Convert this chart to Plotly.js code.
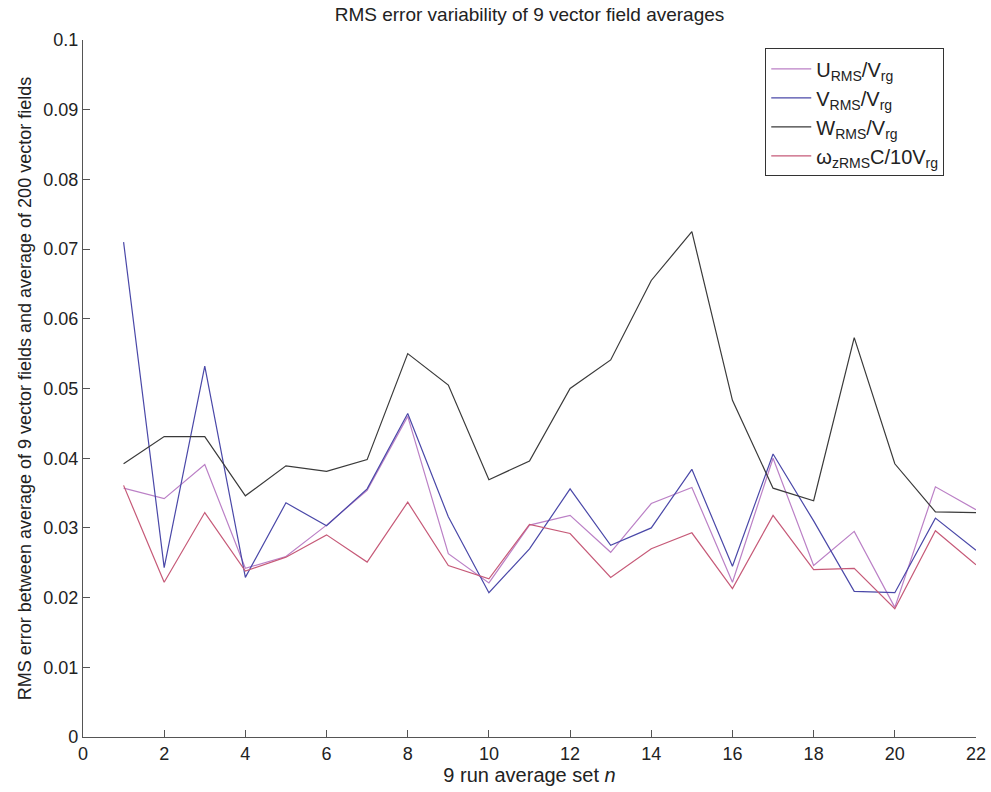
<!DOCTYPE html>
<html>
<head>
<meta charset="utf-8">
<script src="https://cdn.plot.ly/plotly-3.0.1.min.js"></script>
<style>html,body{margin:0;padding:0;background:#fff;}#chart{width:991px;height:792px;}</style>
</head>
<body>
<div id="chart"></div>
<script>
const runSet = [1,2,3,4,5,6,7,8,9,10,11,12,13,14,15,16,17,18,19,20,21,22];
const uRms = [0.0357,0.0342,0.0391,0.0242,0.0259,0.0304,0.0354,0.0460,0.0263,0.0221,0.0304,0.0318,0.0265,0.0335,0.0358,0.0222,0.0400,0.0246,0.0295,0.0186,0.0359,0.0326];
const vRms = [0.0710,0.0243,0.0532,0.0229,0.0336,0.0303,0.0356,0.0464,0.0316,0.0207,0.0270,0.0356,0.0275,0.0300,0.0384,0.0245,0.0406,0.0310,0.0209,0.0207,0.0314,0.0268];
const wRms = [0.0392,0.0431,0.0431,0.0346,0.0389,0.0381,0.0398,0.0550,0.0505,0.0369,0.0396,0.0500,0.0541,0.0655,0.0725,0.0483,0.0357,0.0339,0.0573,0.0392,0.0323,0.0322];
const omegaRms = [0.0361,0.0222,0.0322,0.0238,0.0258,0.0290,0.0251,0.0337,0.0246,0.0227,0.0305,0.0292,0.0229,0.0270,0.0293,0.0213,0.0318,0.0240,0.0242,0.0184,0.0296,0.0247];
const seriesNames = ['U<sub>RMS</sub>/V<sub>rg</sub>','V<sub>RMS</sub>/V<sub>rg</sub>','W<sub>RMS</sub>/V<sub>rg</sub>','ω<sub>zRMS</sub>C/10V<sub>rg</sub>'];
const seriesColors = ['#bb80c6','#4a48a8','#3a3a3a','#c65a78'];
const seriesData = [uRms, vRms, wRms, omegaRms];

const traces = seriesData.map((ys, i) => ({
  x: runSet, y: ys, type: 'scatter', mode: 'lines', name: seriesNames[i],
  line: {color: seriesColors[i], width: 1.2}
}));

const font = {family: 'Liberation Sans, Arial, sans-serif', size: 18, color: '#222'};
const layout = {
  width: 991, height: 792,
  margin: {l: 83, r: 15, t: 40, b: 55},
  paper_bgcolor: '#fff', plot_bgcolor: '#fff',
  font: font,
  showlegend: true,
  title: {text: 'RMS error variability of 9 vector field averages', font: {family: font.family, size: 19, color: '#222'}, xref: 'paper', x: 0.5, xanchor: 'center', y: 0.99, yanchor: 'top'},
  xaxis: {
    range: [0, 22], tickvals: [0,2,4,6,8,10,12,14,16,18,20,22],
    ticks: 'inside', ticklen: 7, tickcolor: '#555', showline: true, linecolor: '#555', linewidth: 1.2,
    showgrid: false, zeroline: false, tickfont: {size: 18},
    title: {text: '9 run average set <i>n</i>', font: {size: 20}, standoff: 3}
  },
  yaxis: {
    range: [0, 0.1], tickvals: [0,0.01,0.02,0.03,0.04,0.05,0.06,0.07,0.08,0.09,0.1],
    ticktext: ['0','0.01','0.02','0.03','0.04','0.05','0.06','0.07','0.08','0.09','0.1'],
    ticks: 'inside', ticklen: 7, tickcolor: '#555', showline: true, linecolor: '#555', linewidth: 1.2,
    showgrid: false, zeroline: false, tickfont: {size: 18},
    title: {text: 'RMS error between average of 9 vector fields and average of 200 vector fields', font: {size: 18}, standoff: 6}
  },
  legend: {
    x: 0.764, y: 0.988, xanchor: 'left', yanchor: 'top',
    bordercolor: '#333', borderwidth: 1, bgcolor: '#fff',
    font: {size: 20}, itemwidth: 40
  }
};
Plotly.newPlot('chart', traces, layout, {staticPlot: true});
</script>
</body>
</html>
